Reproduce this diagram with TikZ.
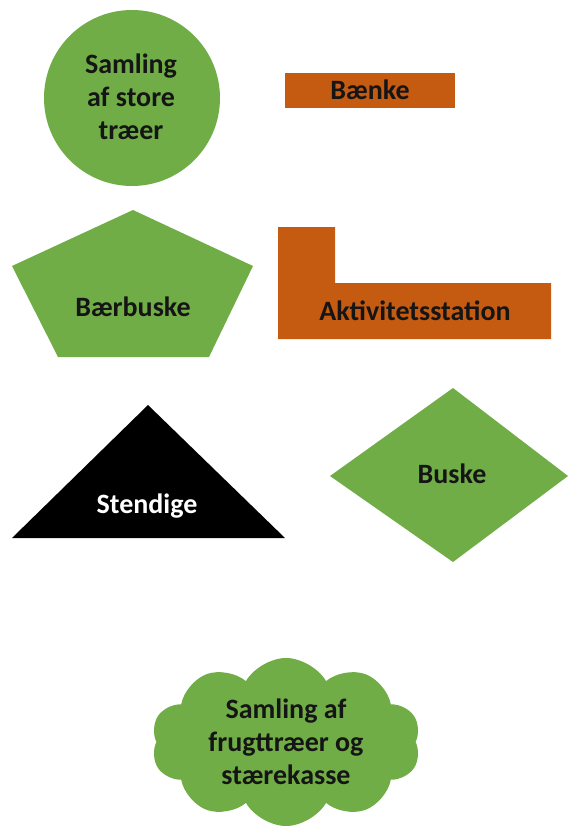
\documentclass[tikz,border=0pt]{standalone}
\usepackage{fontspec}
\setmainfont{Carlito}
\usetikzlibrary{shapes.symbols}

\definecolor{groen}{HTML}{70AD47}
\definecolor{orange}{HTML}{C55A11}
\definecolor{tekstsort}{HTML}{151515}

\begin{document}
\begin{tikzpicture}[x=0.75pt, y=-0.75pt,
			tekst/.style={font=\fontsize{21}{24.75}\selectfont\bfseries, text=tekstsort, align=center, inner sep=0pt},
			groenfelt/.style={fill=groen, draw=none},
			orangefelt/.style={fill=orange, draw=none}]
			\useasboundingbox (0,0) rectangle (572,828);
			% cirkel og baenke
			\fill[groenfelt] (132,98) circle[radius=88];
			\node[tekst](storetraeer) at (131,97){Samling\\af store\\træer};
			\fill[orangefelt] (285,73) rectangle (455,108);
			\node[tekst](baenke) at (370,90){Bænke};
			% femkant og aktivitetsstation
			\fill[groenfelt] (133,210) -- (253,266) -- (209,357) -- (58,357) -- (12,266) -- cycle;
			\node[tekst](baerbuske) at (133,307){Bærbuske};
			\fill[orangefelt] (278,227) -- (335,227) -- (335,283) -- (551,283) -- (551,339) -- (278,339) -- cycle;
			\node[tekst](aktivitet) at (415,311){Aktivitetsstation};
			% trekant og rude
			\fill[black] (148,405) -- (285,538) -- (12,538) -- cycle;
			\node[tekst, text=white](stendige) at (147,506){Stendige};
			\fill[groenfelt] (453,388) -- (568,476) -- (453,562) -- (330,476) -- cycle;
			\node[tekst](buske) at (452,474){Buske};
			% sky
			\node[tekst, groenfelt, cloud, cloud puffs=10, cloud puff arc=120, cloud ignores aspect,
				minimum width=202pt, minimum height=126pt](frugttraeer) at (286,742)
				{Samling af\\frugttræer og\\stærekasse};
	\end{tikzpicture}
\end{document}
